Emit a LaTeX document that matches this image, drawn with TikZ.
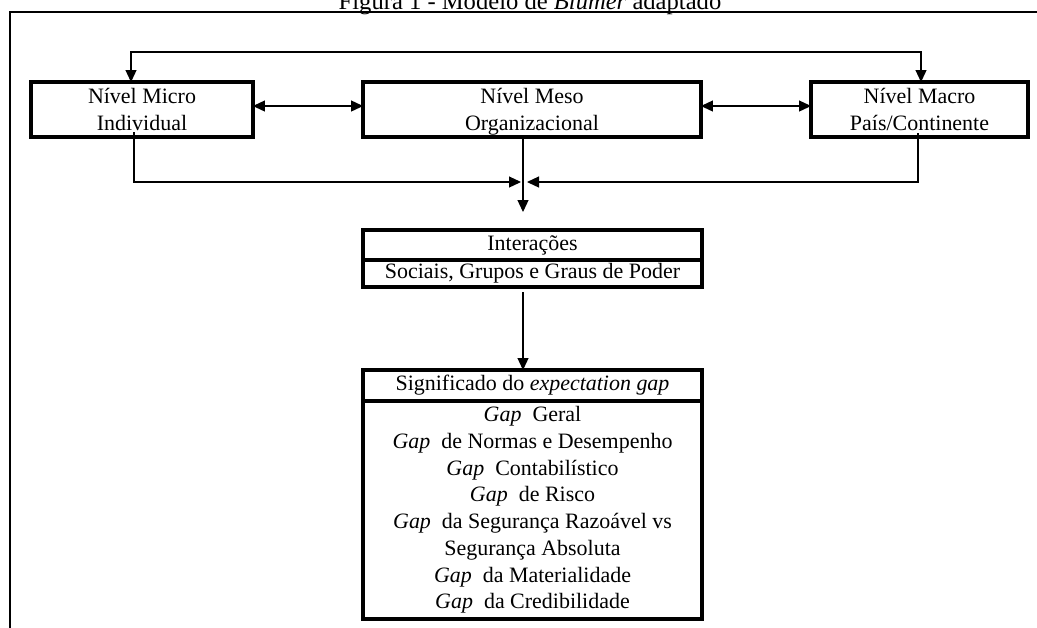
\documentclass[tikz,border=0pt]{standalone}
\usepackage{fontspec}
\setmainfont{Liberation Serif}
\usetikzlibrary{arrows.meta,positioning}

\tikzset{
  box/.style={draw,line width=1.9pt,inner sep=0pt,outer sep=0pt,align=center,minimum width=#1},
  level/.style={box=#1,minimum height=1.1cm,text depth=0pt},
  link/.style={line width=0.7pt,-{Triangle[length=0.24cm,width=0.22cm]}},
  twoway/.style={line width=0.7pt,{Triangle[length=0.24cm,width=0.22cm]}-{Triangle[length=0.24cm,width=0.22cm]}}
}

\begin{document}
\begin{tikzpicture}[x=0.02cm,y=-0.02cm,font=\fontsize{12.5}{15.2}\selectfont]
   \useasboundingbox (0,0) rectangle (1037,627);
   \draw[line width=1.2pt] (10,700) -- (10,12) -- (1100,12);
   \node[anchor=base,font=\fontsize{14}{16}\selectfont] (title) at (530,9) {Figura 1 - Modelo de \textit{Blumer} adaptado};

   \node[level=4.44cm] (micro) at (142,109.5) {Nível Micro\\Individual};
   \node[level=6.76cm] (meso) at (532,109.5) {Nível Meso\\Organizacional};
   \node[level=4.34cm] (macro) at (919.5,109.5) {Nível Macro\\País/Continente};

   \node[box=6.78cm,minimum height=0.6cm] (inter) at (532.5,245) {Interações};
   \node[box=6.78cm,minimum height=0.54cm,below=0pt of inter] (sociais) {Sociais, Grupos e Graus de Poder};

   \node[box=6.78cm,minimum height=0.62cm] (sig) at (532.5,385.5) {Significado do \textit{expectation gap}};
   \node[box=6.78cm,minimum height=4.36cm,below=0pt of sig] (gaps) {%
     \textit{Gap}~ Geral\\
     \textit{Gap}~ de Normas e Desempenho\\
     \textit{Gap}~ Contabilístico\\
     \textit{Gap}~ de Risco\\
     \textit{Gap}~ da Segurança Razoável vs\\
     Segurança Absoluta\\
     \textit{Gap}~ da Materialidade\\
     \textit{Gap}~ da Credibilidade};

   \coordinate (hub) at (523,182);
   \coordinate (drop) at (523,212);
   \coordinate (loop) at (0,52);

   \draw[twoway] ([yshift=0.07cm]micro.east) -- ([yshift=0.07cm]meso.west);
   \draw[twoway] ([yshift=0.07cm]meso.east) -- ([yshift=0.07cm]macro.west);
   \draw[twoway] ([xshift=-0.22cm]micro.north) -- ([xshift=-0.22cm]micro.north |- loop) -| ([xshift=0.03cm]macro.north);

   \draw[link,shorten <=-0.1cm] ([xshift=-0.16cm]micro.south) |- ([xshift=-0.04cm]hub);
   \draw[link,shorten <=-0.08cm] ([xshift=-0.03cm]macro.south) |- ([xshift=0.08cm]hub);
   \draw[link,shorten <=-0.04cm] (meso.south -| drop) -- (drop);
   \draw[link,shorten <=0.1cm] (sociais.south -| drop) -- (sig.north -| drop);
\end{tikzpicture}
\end{document}
